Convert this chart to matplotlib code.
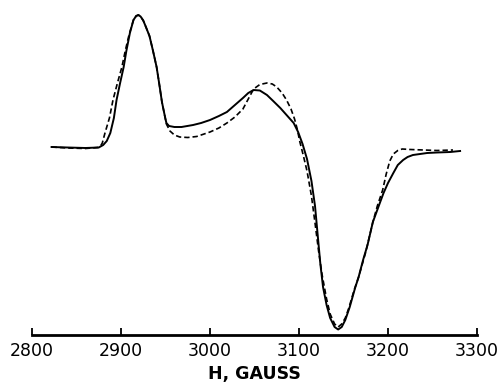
import matplotlib
matplotlib.use("Agg")
import matplotlib.pyplot as plt

# Solid trace (field in gauss, derivative amplitude, arbitrary units)
solid_h = [2822, 2840, 2860, 2875, 2880, 2884, 2888, 2892, 2895, 2899, 2903, 2906,
           2910, 2914, 2917, 2919.5, 2922, 2925, 2928, 2932, 2936, 2940, 2943, 2946,
           2949, 2951, 2954, 2960, 2968, 2981, 2990, 3000, 3010, 3019, 3028, 3037,
           3043, 3049, 3056, 3064, 3071, 3079, 3087, 3094, 3099, 3104, 3109, 3114,
           3118, 3121, 3124, 3127, 3131, 3135, 3140, 3144, 3148, 3152, 3157, 3163,
           3167, 3172, 3177, 3183, 3190, 3195, 3200, 3206, 3211, 3217, 3222, 3228,
           3236, 3244, 3255, 3270, 3281]
solid_y = [1, 0.5, 0, 0.5, 3, 7, 15, 30, 48, 65, 81, 97,
           115, 128, 132, 133, 131.5, 127.5, 121, 112, 97, 81, 64, 46,
           33, 25, 22, 21, 21, 23, 25, 28, 32, 36, 43, 50,
           55, 58, 57.5, 53, 47, 40, 32, 25, 16, 4, -11, -33,
           -58, -87, -116, -139, -157, -170, -179, -181.5, -179, -172, -159, -140,
           -129, -112, -97, -74, -57, -45, -35, -25, -17, -12, -9, -7,
           -6, -5, -4.5, -4, -3]

# Dashed trace
dash_h = [2822, 2840, 2860, 2874, 2877, 2879, 2882, 2887, 2891, 2896, 2901, 2905,
          2909, 2914, 2917, 2919.5, 2922, 2925, 2928, 2932, 2936, 2940, 2943, 2946,
          2949, 2951, 2955, 2960, 2966, 2975, 2985, 3000, 3010, 3019, 3028, 3037,
          3043, 3049, 3056, 3064, 3070, 3075, 3081, 3086, 3091, 3095, 3098, 3101,
          3105, 3109, 3114, 3118, 3122, 3126, 3131, 3135, 3140, 3144, 3148, 3152,
          3156, 3162, 3167, 3175, 3183, 3188, 3194, 3198, 3202, 3206, 3211, 3216,
          3225, 3240, 3255, 3273]
dash_y = [1, 0, -0.5, 0.5, 2, 5, 15, 30, 48, 65, 81, 98,
          113, 128, 132, 133, 131.5, 127.5, 121, 112, 97, 81, 64, 46,
          33, 24, 17, 13, 11, 10.5, 11.5, 16, 20, 25, 31, 39,
          49, 59, 63.5, 65, 64, 61, 55, 48, 39, 29, 19, 6,
          -8, -23, -48, -75, -103, -127, -151, -166, -176, -179, -176, -170,
          -160, -142, -129, -104, -74, -58, -42, -26, -13, -6, -2.5, -1,
          -1.5, -2, -2.5, -2]

xticks = [2800, 2900, 3000, 3100, 3200, 3300]
xlabel = "H, GAUSS"

fig = plt.figure(figsize=(5.03, 3.87), dpi=100)
ax = fig.add_axes([32 / 503, 52 / 387, 445 / 503, 330 / 387])

ax.plot(solid_h, solid_y, color="black", lw=1.4, solid_joinstyle="round")
ax.plot(dash_h, dash_y, color="black", lw=1.2, linestyle=(0, (3.2, 1.8)))

ax.set_xlim(2800, 3300)
ax.set_ylim(-187, 143)
ax.set_xticks(xticks)
ax.set_xticklabels([str(t) for t in xticks])
ax.set_yticks([])
for s in ["top", "right", "left"]:
    ax.spines[s].set_visible(False)
ax.spines["bottom"].set_linewidth(2.0)
ax.tick_params(axis="x", direction="in", length=5, width=1.3, pad=5,
               labelsize=12.5)
ax.set_xlabel(xlabel, fontsize=12.5, fontweight="bold", labelpad=4)

fig.savefig("out.png", dpi=100)
